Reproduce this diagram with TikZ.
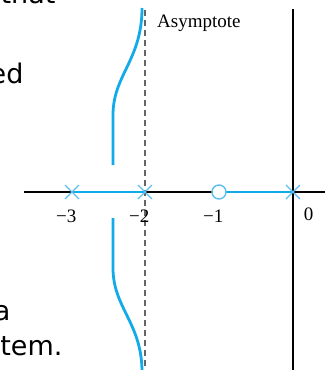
\documentclass[tikz,border=0pt]{standalone}
\usepackage{fontspec}
\setmainfont{Liberation Serif}
\newfontfamily\slidefont{DejaVu Sans}
\definecolor{locusblue}{RGB}{18,170,232}
\definecolor{markblue}{RGB}{95,190,240}

\begin{document}
\begin{tikzpicture}[x=1pt,y=-1pt,
  axis/.style={line width=1.1pt,black},
  asym/.style={line width=1.3pt,black!60,dash pattern=on 6pt off 4pt},
  branch/.style={line width=2.8pt,locusblue},
  polex/.style={line width=1.4pt,markblue},
  tick label/.style={font=\fontsize{19}{21}\selectfont,anchor=base east,inner sep=0pt},
  slide/.style={font=\slidefont\fontsize{27}{30}\selectfont,anchor=base east}
]
  \useasboundingbox (0,0) rectangle (325,370);
  \clip (0,0) rectangle (325,370);
  % leftover slide text
  \node[slide] (t1) at (59,3) {that};
  \node[slide] (t2) at (27,83) {ed};
  \node[slide] (t3) at (14,320) {a};
  \node[slide] (t4) at (66,355) {tem.};
  % axes and asymptote
  \draw[axis] (24,192) -- (325,192);
  \draw[axis] (293,9) -- (293,370);
  \draw[asym] (145,10) -- (145,370);
  \node[anchor=base west,inner sep=0pt,font=\fontsize{19}{21}\selectfont] (asy) at (157,27) {Asymptote};
  % root locus
  \draw[branch] (72,192) -- (145,192);
  \draw[branch] (226,192) -- (293,192);
  \draw[branch] (113,165) -- (113,115) .. controls (113,75) and (142,60) .. (142,8);
  \draw[branch] (113,218) -- (113,268) .. controls (113,308) and (142,323) .. (142,372);
  % poles and zero
  \foreach \px in {72,145,293}
    \draw[polex] (\px-7,185) -- (\px+7,199) (\px-7,199) -- (\px+7,185);
  \draw[polex,fill=white] (219,192) circle (7pt);
  % tick labels
  \node[tick label] (l3) at (76.5,222) {−3};
  \node[tick label] (l2) at (149.5,222) {−2};
  \node[tick label] (l1) at (223.5,222) {−1};
  \node[tick label] (l0) at (313.5,220) {0};
\end{tikzpicture}
\end{document}
